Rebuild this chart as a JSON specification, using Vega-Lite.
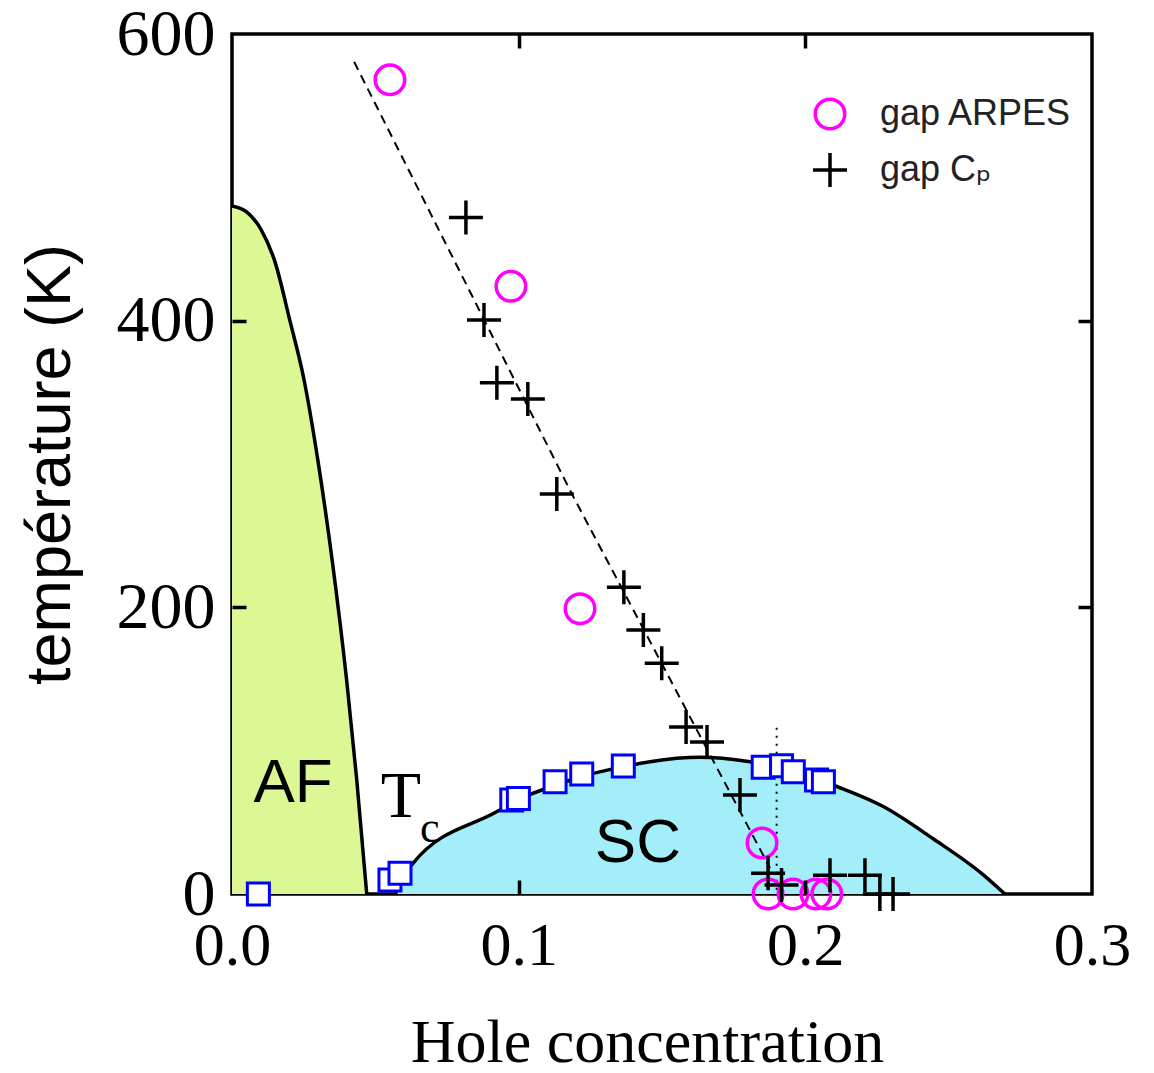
{
  "$schema": "https://vega.github.io/schema/vega-lite/v6.json",
  "width": 860,
  "height": 860,
  "autosize": "none",
  "padding": {"left": 232, "top": 34, "right": 62, "bottom": 179},
  "background": "white",
  "config": {
    "view": {"stroke": "black", "strokeWidth": 3.5},
    "axis": {"grid": false, "domain": false}
  },
  "datasets": {
    "af": [
      {"x": 0.0, "T": 480}, {"x": 0.005, "T": 476}, {"x": 0.01, "T": 464},
      {"x": 0.015, "T": 441}, {"x": 0.0202, "T": 400}, {"x": 0.025, "T": 360},
      {"x": 0.03, "T": 302}, {"x": 0.035, "T": 232}, {"x": 0.04, "T": 149},
      {"x": 0.0435, "T": 80}, {"x": 0.047, "T": 0}
    ],
    "sc": [
      {"x": 0.057, "T": 0}, {"x": 0.0592, "T": 10}, {"x": 0.0632, "T": 21.6},
      {"x": 0.0923, "T": 57.4}, {"x": 0.1, "T": 66},
      {"x": 0.113, "T": 76}, {"x": 0.122, "T": 82}, {"x": 0.137, "T": 89},
      {"x": 0.1458, "T": 92.3}, {"x": 0.1632, "T": 95.4}, {"x": 0.1807, "T": 92.3},
      {"x": 0.19, "T": 89}, {"x": 0.2, "T": 83}, {"x": 0.211, "T": 75},
      {"x": 0.2272, "T": 61}, {"x": 0.2446, "T": 38.5}, {"x": 0.262, "T": 13.5},
      {"x": 0.2696, "T": 0}
    ],
    "tc": [
      {"x": 0.0092, "T": 0}, {"x": 0.0551, "T": 9.8}, {"x": 0.0586, "T": 14.4},
      {"x": 0.0976, "T": 65.6}, {"x": 0.0999, "T": 66.7}, {"x": 0.1127, "T": 78.3},
      {"x": 0.122, "T": 83.7}, {"x": 0.1365, "T": 89.3}, {"x": 0.1853, "T": 88.4},
      {"x": 0.1917, "T": 89.5}, {"x": 0.1958, "T": 85.3}, {"x": 0.2039, "T": 79.5},
      {"x": 0.2063, "T": 78.3}
    ],
    "gaps": [
      {"series": "gap ARPES", "x": 0.0551, "T": 568},
      {"series": "gap ARPES", "x": 0.0973, "T": 424},
      {"series": "gap ARPES", "x": 0.1214, "T": 199},
      {"series": "gap ARPES", "x": 0.1849, "T": 35.6},
      {"series": "gap ARPES", "x": 0.187, "T": 0},
      {"series": "gap ARPES", "x": 0.1957, "T": 0},
      {"series": "gap ARPES", "x": 0.2037, "T": 0},
      {"series": "gap ARPES", "x": 0.2075, "T": 0},
      {"series": "gap Cₚ", "x": 0.0816, "T": 472},
      {"series": "gap Cₚ", "x": 0.0879, "T": 400.5},
      {"series": "gap Cₚ", "x": 0.0924, "T": 356.6},
      {"series": "gap Cₚ", "x": 0.1032, "T": 345.4},
      {"series": "gap Cₚ", "x": 0.1133, "T": 279},
      {"series": "gap Cₚ", "x": 0.1367, "T": 214},
      {"series": "gap Cₚ", "x": 0.1435, "T": 184.2},
      {"series": "gap Cₚ", "x": 0.1499, "T": 161},
      {"series": "gap Cₚ", "x": 0.1584, "T": 116.5},
      {"series": "gap Cₚ", "x": 0.1657, "T": 106},
      {"series": "gap Cₚ", "x": 0.1772, "T": 69},
      {"series": "gap Cₚ", "x": 0.187, "T": 14.4},
      {"series": "gap Cₚ", "x": 0.1917, "T": 6.3},
      {"series": "gap Cₚ", "x": 0.2086, "T": 13},
      {"series": "gap Cₚ", "x": 0.2208, "T": 13},
      {"series": "gap Cₚ", "x": 0.226, "T": 0},
      {"series": "gap Cₚ", "x": 0.2306, "T": 0}
    ],
    "dashed": [
      {"x": 0.0426, "T": 580.6}, {"x": 0.1186, "T": 279}, {"x": 0.1877, "T": 18}
    ],
    "dotted": [
      {"x": 0.19, "T": 116}, {"x": 0.19, "T": 0}
    ],
    "sanslabels": [
      {"text": "AF", "x": 0.0213, "T": 64},
      {"text": "SC", "x": 0.1416, "T": 22}
    ],
    "tlabel": [{"text": "T", "x": 0.0589, "T": 53.7}],
    "clabel": [{"text": "c", "x": 0.069, "T": 36.3}]
  },
  "resolve": {"axis": {"x": "independent", "y": "independent"}},
  "layer": [
    {
      "data": {"name": "af"},
      "mark": {"type": "area", "color": "#dcf894", "orient": "vertical", "interpolate": "monotone"},
      "encoding": {
        "x": {
          "field": "x", "type": "quantitative",
          "scale": {"domain": [0, 0.3], "nice": false, "zero": false},
          "axis": {
            "orient": "bottom", "values": [0, 0.1, 0.2, 0.3], "format": ".1f",
            "ticks": false, "zindex": 1,
            "labelFont": "Liberation Serif", "labelFontSize": 62, "labelColor": "black",
            "labelPadding": 21, "labelFlush": false, "labelOverlap": false,
            "title": "Hole concentration", "titleFont": "Liberation Serif",
            "titleFontSize": 62, "titleFontWeight": "normal", "titleColor": "black",
            "titlePadding": 36, "titleX": 415
          }
        },
        "y": {
          "field": "T", "type": "quantitative",
          "scale": {"domain": [0, 600], "nice": false},
          "axis": {
            "orient": "left", "values": [0, 200, 400, 600],
            "ticks": false, "zindex": 1,
            "labelFont": "Liberation Serif", "labelFontSize": 66, "labelColor": "black",
            "labelPadding": 17, "labelFlush": false, "labelOverlap": false,
            "title": "température (K)", "titleFont": "Liberation Sans",
            "titleFontSize": 63, "titleFontWeight": "normal", "titleColor": "black",
            "titlePadding": 34
          }
        },
        "y2": {"datum": 0}
      }
    },
    {
      "data": {"name": "af"},
      "mark": {"type": "line", "color": "black", "strokeWidth": 3.5, "interpolate": "monotone"},
      "encoding": {
        "x": {
          "field": "x", "type": "quantitative",
          "axis": {
            "orient": "bottom", "offset": -860, "values": [0.1, 0.2], "labels": false, "title": null,
            "tickSize": 14, "tickWidth": 3.5, "tickColor": "black", "zindex": 1
          }
        },
        "y": {
          "field": "T", "type": "quantitative",
          "axis": {
            "orient": "left", "offset": -860, "values": [200, 400], "labels": false, "title": null,
            "tickSize": 14, "tickWidth": 3.5, "tickColor": "black", "zindex": 1
          }
        }
      }
    },
    {
      "data": {"name": "sc"},
      "mark": {"type": "area", "color": "#a3eef9", "orient": "vertical", "interpolate": "monotone"},
      "encoding": {
        "x": {
          "field": "x", "type": "quantitative",
          "axis": {
            "orient": "top", "offset": -860, "values": [0.1, 0.2], "labels": false, "title": null,
            "tickSize": 14, "tickWidth": 3.5, "tickColor": "black", "zindex": 1
          }
        },
        "y": {
          "field": "T", "type": "quantitative",
          "axis": {
            "orient": "right", "offset": -860, "values": [200, 400], "labels": false, "title": null,
            "tickSize": 14, "tickWidth": 3.5, "tickColor": "black", "zindex": 1
          }
        },
        "y2": {"datum": 0}
      }
    },
    {
      "data": {"name": "sc"},
      "mark": {"type": "line", "color": "black", "strokeWidth": 3.5, "interpolate": "monotone"},
      "encoding": {
        "x": {"field": "x", "type": "quantitative", "axis": null},
        "y": {"field": "T", "type": "quantitative", "axis": null}
      }
    },
    {
      "data": {"name": "dashed"},
      "mark": {"type": "line", "color": "black", "strokeWidth": 2, "strokeDash": [9, 6]},
      "encoding": {
        "x": {"field": "x", "type": "quantitative", "axis": null},
        "y": {"field": "T", "type": "quantitative", "axis": null}
      }
    },
    {
      "data": {"name": "dotted"},
      "mark": {"type": "line", "color": "black", "strokeWidth": 2, "strokeDash": [2, 6]},
      "encoding": {
        "x": {"field": "x", "type": "quantitative", "axis": null},
        "y": {"field": "T", "type": "quantitative", "axis": null}
      }
    },
    {
      "data": {"name": "tc"},
      "mark": {"type": "point", "shape": "square", "filled": true, "fill": "white", "stroke": "#0000ff", "strokeWidth": 3, "size": 484, "opacity": 1},
      "encoding": {
        "x": {"field": "x", "type": "quantitative", "axis": null},
        "y": {"field": "T", "type": "quantitative", "axis": null}
      }
    },
    {
      "data": {"name": "gaps"},
      "mark": {"type": "point", "filled": false, "strokeWidth": 3.5, "opacity": 1},
      "encoding": {
        "x": {"field": "x", "type": "quantitative", "axis": null},
        "y": {"field": "T", "type": "quantitative", "axis": null},
        "color": {
          "field": "series", "type": "nominal",
          "scale": {"domain": ["gap ARPES", "gap Cₚ"], "range": ["#ff00ff", "#000000"]},
          "legend": {
            "orient": "none", "legendX": 579, "legendY": 62, "title": null,
            "labelFont": "Liberation Sans, DejaVu Sans", "labelFontSize": 36, "labelColor": "#222222",
            "labelLimit": 0, "labelOffset": 31, "rowPadding": 10, "padding": 0,
            "symbolStrokeWidth": 3.5
          }
        },
        "shape": {
          "field": "series", "type": "nominal",
          "scale": {"domain": ["gap ARPES", "gap Cₚ"], "range": ["circle", "M-1,0L1,0M0,-1L0,1"]}
        },
        "size": {
          "field": "series", "type": "nominal",
          "scale": {"domain": ["gap ARPES", "gap Cₚ"], "range": [870, 1156]}
        }
      }
    },
    {
      "data": {"name": "sanslabels"},
      "mark": {"type": "text", "font": "Liberation Sans", "fontSize": 62, "color": "black", "align": "center", "baseline": "alphabetic"},
      "encoding": {
        "x": {"field": "x", "type": "quantitative", "axis": null},
        "y": {"field": "T", "type": "quantitative", "axis": null},
        "text": {"field": "text"}
      }
    },
    {
      "data": {"name": "tlabel"},
      "mark": {"type": "text", "font": "Liberation Serif", "fontSize": 66, "color": "black", "align": "center", "baseline": "alphabetic"},
      "encoding": {
        "x": {"field": "x", "type": "quantitative", "axis": null},
        "y": {"field": "T", "type": "quantitative", "axis": null},
        "text": {"field": "text"}
      }
    },
    {
      "data": {"name": "clabel"},
      "mark": {"type": "text", "font": "Liberation Serif", "fontSize": 44, "color": "black", "align": "center", "baseline": "alphabetic"},
      "encoding": {
        "x": {"field": "x", "type": "quantitative", "axis": null},
        "y": {"field": "T", "type": "quantitative", "axis": null},
        "text": {"field": "text"}
      }
    }
  ]
}
